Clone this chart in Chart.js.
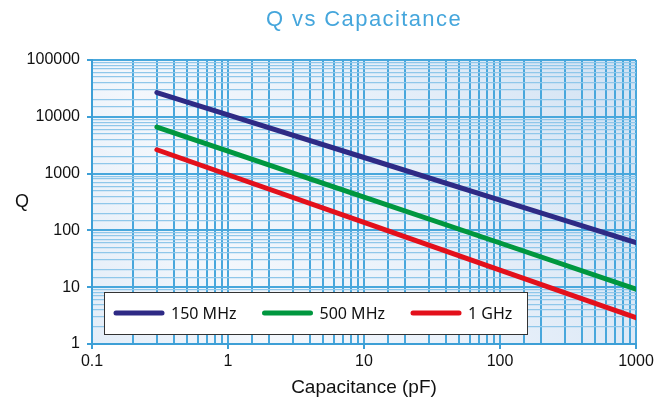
<!DOCTYPE html>
<html>
<head>
<meta charset="utf-8">
<script src="https://cdn.jsdelivr.net/npm/chart.js@4/dist/chart.umd.min.js"></script>
<style>
  html, body { margin: 0; padding: 0; background: #ffffff; }
  #wrap { width: 668px; height: 406px; position: relative; }
</style>
</head>
<body>
<div id="wrap"><canvas id="c" width="668" height="406"></canvas></div>
<script>
// ---- data ----
const chartTitle = 'Q vs Capacitance';
const xAxisTitle = 'Capacitance (pF)';
const yAxisTitle = 'Q';
const seriesNames = ['150 MHz', '500 MHz', '1 GHz'];
const seriesColors = ['#2e2a85', '#00973f', '#e3101b'];
const capacitance = [0.3, 1, 10, 100, 1000];
const q150MHz = [26700, 10800, 1920, 342, 61];
const q500MHz = [6600, 2490, 385, 60, 9.2];
const q1GHz = [2630, 955, 138, 20, 2.9];
const xTickLabels = ['0.1', '1', '10', '100', '1000'];
const yTickLabels = ['1', '10', '100', '1000', '10000', '100000'];

const seriesValues = [q150MHz, q500MHz, q1GHz];

function isMajor(v) {
  const l = Math.log10(v);
  return Math.abs(l - Math.round(l)) < 1e-6;
}

const FONT = '"Liberation Sans", Arial, sans-serif';

const bgPlugin = {
  id: 'bg',
  beforeDraw(chart) {
    const { ctx, chartArea: a } = chart;
    ctx.save();
    const g = ctx.createLinearGradient(a.right, a.top, a.left, a.bottom);
    g.addColorStop(0, '#d2e2f3');
    g.addColorStop(0.45, '#e9f1fa');
    g.addColorStop(0.75, '#f3f7fc');
    g.addColorStop(1, '#e3edf8');
    ctx.fillStyle = g;
    ctx.fillRect(a.left, a.top, a.right - a.left, a.bottom - a.top);
    ctx.restore();
  }
};

const textPlugin = {
  id: 'texts',
  afterDraw(chart) {
    const { ctx, chartArea: a } = chart;
    ctx.save();
    // main title
    ctx.fillStyle = '#45a6dc';
    ctx.font = '22px ' + FONT;
    ctx.textAlign = 'center';
    ctx.textBaseline = 'middle';
    try { ctx.letterSpacing = '1.4px'; } catch (e) {}
    ctx.fillText(chartTitle, (a.left + a.right) / 2, 20);
    try { ctx.letterSpacing = '0px'; } catch (e) {}
    // y title
    ctx.fillStyle = '#111';
    ctx.font = '18px ' + FONT;
    ctx.fillText(yAxisTitle, 22, 202);
    // x title
    ctx.font = '19px ' + FONT;
    ctx.fillText(xAxisTitle, (a.left + a.right) / 2, 388);
    ctx.restore();
  }
};

const legendPlugin = {
  id: 'boxLegend',
  afterDatasetsDraw(chart) {
    const { ctx, chartArea: a } = chart;
    ctx.save();
    const bx = a.left + 12, bw = 423, bh = 42;
    const by = a.bottom - 10 - bh;
    ctx.fillStyle = '#ffffff';
    ctx.fillRect(bx, by, bw, bh);
    ctx.strokeStyle = '#333333';
    ctx.lineWidth = 1;
    ctx.strokeRect(bx + 0.5, by + 0.5, bw, bh);
    ctx.font = '16px "Noto Sans", "Open Sans", sans-serif';
    ctx.textBaseline = 'middle';
    ctx.textAlign = 'left';
    let x = bx + 12;
    const cy = by + bh / 2;
    chart.data.datasets.forEach((ds) => {
      ctx.strokeStyle = ds.borderColor;
      ctx.lineWidth = 5;
      ctx.lineCap = 'round';
      ctx.beginPath();
      ctx.moveTo(x, cy);
      ctx.lineTo(x + 46, cy);
      ctx.stroke();
      ctx.fillStyle = '#111';
      ctx.fillText(ds.label, x + 55, cy + 1);
      x += 55 + ctx.measureText(ds.label).width + 28;
    });
    ctx.restore();
  }
};

const datasets = seriesNames.map((name, i) => ({
  label: name,
  data: capacitance.map((c, j) => ({ x: c, y: seriesValues[i][j] })),
  borderColor: seriesColors[i],
  backgroundColor: seriesColors[i],
  borderWidth: 5,
  borderCapStyle: 'round',
  pointRadius: 0,
  tension: 0,
  fill: false
}));

new Chart(document.getElementById('c'), {
  type: 'line',
  data: { datasets },
  plugins: [bgPlugin, textPlugin, legendPlugin],
  options: {
    responsive: false,
    animation: false,
    devicePixelRatio: 1,
    layout: { padding: { top: 60, right: 32, left: 0, bottom: 0 } },
    plugins: { legend: { display: false }, title: { display: false }, tooltip: { enabled: false } },
    scales: {
      x: {
        type: 'logarithmic',
        min: 0.1,
        max: 1000,
        afterFit(s) { s.height = 62; },
        border: { display: true, color: '#3d9fd6', width: 2 },
        grid: {
          color: '#48a7dc',
          lineWidth: 2,
          tickLength: 5,
          tickColor: (c) => (c.tick && isMajor(c.tick.value)) ? '#3d9fd6' : 'rgba(0,0,0,0)',
          tickWidth: 2
        },
        ticks: {
          autoSkip: false,
          maxRotation: 0,
          padding: 3,
          color: '#111',
          font: { family: FONT, size: 16 },
          callback: (v) => isMajor(v) ? xTickLabels[Math.round(Math.log10(v)) + 1] : ''
        }
      },
      y: {
        type: 'logarithmic',
        min: 1,
        max: 100000,
        afterFit(s) { s.width = 92; },
        border: { display: true, color: '#3d9fd6', width: 2 },
        grid: {
          color: (c) => (c.tick && isMajor(c.tick.value)) ? '#48a7dc' : '#8fc7ea',
          lineWidth: (c) => (c.tick && isMajor(c.tick.value)) ? 2 : 1.3,
          tickLength: 5,
          tickColor: (c) => (c.tick && isMajor(c.tick.value)) ? '#3d9fd6' : 'rgba(0,0,0,0)',
          tickWidth: 2
        },
        ticks: {
          autoSkip: false,
          padding: 7,
          color: '#111',
          font: { family: FONT, size: 16 },
          callback: (v) => isMajor(v) ? yTickLabels[Math.round(Math.log10(v))] : ''
        }
      }
    }
  }
});
</script>
</body>
</html>
